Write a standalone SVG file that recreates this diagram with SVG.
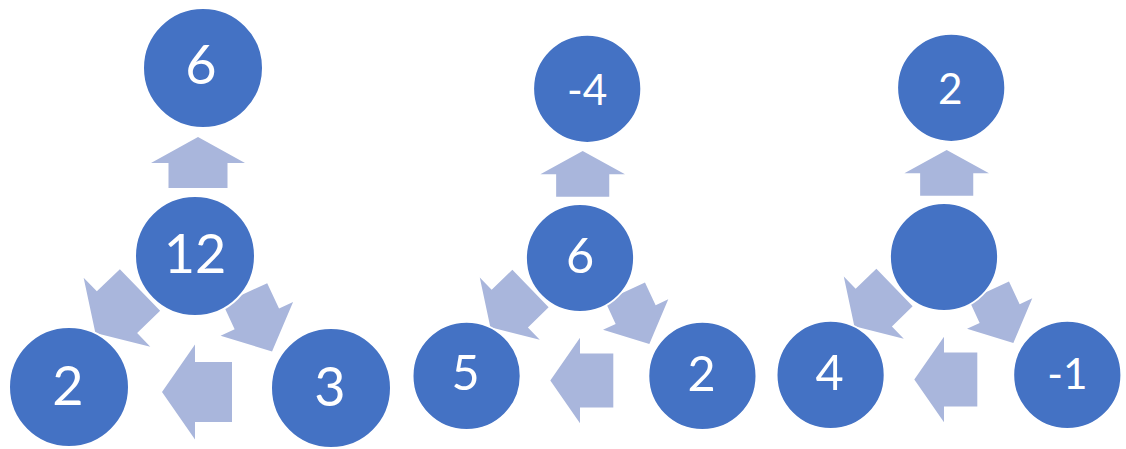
<svg xmlns="http://www.w3.org/2000/svg" width="1126" height="449" viewBox="0 0 1126 449">
  <style>
    .node circle { fill: #4472C4; stroke: #FFFFFF; stroke-width: 2; }
    .node text { fill: #FFFFFF; font-family: Lato, "Open Sans", "Liberation Sans", sans-serif; font-size: 54px; text-anchor: middle; }
    .node text.small { font-size: 47px; }
    .arrow { fill: #A9B6DC; stroke: none; }
  </style>
  <rect x="0" y="0" width="1126" height="449" fill="#FFFFFF"/>

  <!-- Diagram 1 -->
  <g id="diagram1" transform="translate(195,256)">
    <g id="d1-connectors">
      <path class="arrow" transform="translate(3,-68) rotate(-90)" d="M0,-29.5 H25 V-47 L51,0 L25,47 V29.5 H0 Z"/>
      <path class="arrow" transform="translate(-55,34) rotate(136)" d="M0,-29 H32 V-48 L62,0 L32,48 V29 H0 Z"/>
      <path class="arrow" transform="translate(50,37.5) rotate(65)" d="M0,-24.5 H28 V-40 L64,0 L28,40 V24.5 H0 Z"/>
      <path class="arrow" transform="translate(37,136) rotate(180)" d="M0,-30 H37 V-47.5 L70,0 L37,47.5 V30 H0 Z"/>
    </g>
    <g id="d1-top" class="node"><circle cx="8" cy="-188" r="60"/><text x="6" y="-172">6</text></g>
    <g id="d1-center" class="node"><circle cx="0" cy="0" r="60"/><text x="0" y="17">12</text></g>
    <g id="d1-left" class="node"><circle cx="-126" cy="131" r="60"/><text x="-127" y="149">2</text></g>
    <g id="d1-right" class="node"><circle cx="136" cy="132" r="60"/><text x="135" y="150">3</text></g>
  </g>

  <!-- Diagram 2 -->
  <g id="diagram2" transform="translate(580,258) scale(0.9)">
    <g id="d2-connectors">
      <path class="arrow" transform="translate(3,-68) rotate(-90)" d="M0,-29.5 H25 V-47 L51,0 L25,47 V29.5 H0 Z"/>
      <path class="arrow" transform="translate(-55,34) rotate(136)" d="M0,-29 H32 V-48 L62,0 L32,48 V29 H0 Z"/>
      <path class="arrow" transform="translate(50,37.5) rotate(65)" d="M0,-24.5 H28 V-40 L64,0 L28,40 V24.5 H0 Z"/>
      <path class="arrow" transform="translate(37,136) rotate(180)" d="M0,-30 H37 V-47.5 L70,0 L37,47.5 V30 H0 Z"/>
    </g>
    <g id="d2-top" class="node"><circle cx="8" cy="-188" r="60"/><text class="small" x="8" y="-170">-4</text></g>
    <g id="d2-center" class="node"><circle cx="0" cy="0" r="60"/><text x="0" y="17">6</text></g>
    <g id="d2-left" class="node"><circle cx="-126" cy="131" r="60"/><text x="-127" y="147">5</text></g>
    <g id="d2-right" class="node"><circle cx="136" cy="131" r="60"/><text x="135" y="148">2</text></g>
  </g>

  <!-- Diagram 3 -->
  <g id="diagram3" transform="translate(944,257) scale(0.9)">
    <g id="d3-connectors">
      <path class="arrow" transform="translate(3,-68) rotate(-90)" d="M0,-29.5 H25 V-47 L51,0 L25,47 V29.5 H0 Z"/>
      <path class="arrow" transform="translate(-55,34) rotate(136)" d="M0,-29 H32 V-48 L62,0 L32,48 V29 H0 Z"/>
      <path class="arrow" transform="translate(50,37.5) rotate(65)" d="M0,-24.5 H28 V-40 L64,0 L28,40 V24.5 H0 Z"/>
      <path class="arrow" transform="translate(37,136) rotate(180)" d="M0,-30 H37 V-47.5 L70,0 L37,47.5 V30 H0 Z"/>
    </g>
    <g id="d3-top" class="node"><circle cx="8" cy="-188" r="60"/><text class="small" x="7" y="-170">2</text></g>
    <g id="d3-center" class="node"><circle cx="0" cy="0" r="60"/></g>
    <g id="d3-left" class="node"><circle cx="-126" cy="131" r="60"/><text x="-127" y="148">4</text></g>
    <g id="d3-right" class="node"><circle cx="137" cy="131" r="60"/><text class="small" x="137" y="147">-1</text></g>
  </g>
</svg>
